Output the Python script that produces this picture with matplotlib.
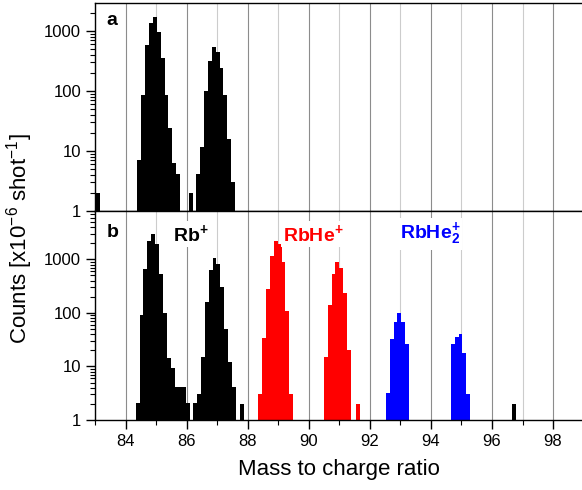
"""Mass spectrum of Rb+ and its helium complexes, two stacked log panels."""

import numpy as np
import matplotlib

matplotlib.use("Agg")
import matplotlib.pyplot as plt
from matplotlib.ticker import FuncFormatter, LogLocator, MultipleLocator


plt.rcParams["font.family"] = ["Liberation Sans", "DejaVu Sans"]
plt.rcParams["mathtext.fontset"] = "custom"
plt.rcParams["mathtext.rm"] = "Liberation Sans"
plt.rcParams["mathtext.bf"] = "Liberation Sans:bold"
plt.rcParams["mathtext.it"] = "Liberation Sans:italic"

BIN_WIDTH = 0.128

# panel a: bare Rb+ (counts in 1e-6 per shot)
A_RB85_START = 84.38
A_RB85_COUNTS = [7.1, 85, 584, 1343, 1694, 973, 350, 85, 23.7, 6.2, 4.1]
A_RB87_START = 86.31
A_RB87_COUNTS = [4.1, 11.7, 100, 319, 547, 451, 238, 85, 15.6, 3.05]
A_SINGLE_MASS = [83.03, 86.08]
A_SINGLE_COUNTS = [2, 2]

# panel b: Rb+, RbHe+ and RbHe2+
B_RB85_START = 84.33
B_RB85_COUNTS = [2.1, 90, 647, 2180, 3030, 1960, 540, 101, 14.5, 9.4, 4.2, 4.2, 4.2, 2.1]
B_RB87_START = 86.21
B_RB87_COUNTS = [2.1, 3.1, 15, 160, 620, 1070, 830, 303, 51, 11.9, 4.1]
B_RB_SINGLE_MASS = [87.74, 96.67]
B_RB_SINGLE_COUNTS = [2, 2]

B_RBHE89_START = 88.34
B_RBHE89_COUNTS = [3.1, 34, 283, 1180, 2240, 1960, 890, 107, 3.1]
B_RBHE91_START = 90.49
B_RBHE91_COUNTS = [14.7, 138, 525, 890, 695, 240, 20]
B_RBHE_SINGLE_MASS = [91.54]
B_RBHE_SINGLE_COUNTS = [2]

B_RBHE2_93_START = 92.52
B_RBHE2_93_COUNTS = [3.2, 33, 68, 101, 68, 26]
B_RBHE2_95_START = 94.65
B_RBHE2_95_COUNTS = [26, 35, 41, 18, 3.1]


def dibujar_pico(ax, inicio, conteos, color):
    # un solo poligono escalonado por pico, asi no quedan rayas entre bins
    bordes = inicio + BIN_WIDTH * np.arange(len(conteos) + 1)
    ax.stairs(conteos, bordes, baseline=1, fill=True, color=color,
              linewidth=0, zorder=2)


def dibujar_sueltos(ax, masas, conteos, color):
    for masa, conteo in zip(masas, conteos):
        dibujar_pico(ax, masa, [conteo], color)


def estilo_ejes(ax, ymax):
    ax.set_xlim(83, 99)
    ax.set_yscale("log", nonpositive="clip")
    ax.set_ylim(1, ymax)
    ax.xaxis.set_major_locator(MultipleLocator(2))
    ax.xaxis.set_minor_locator(MultipleLocator(1))
    ax.yaxis.set_major_locator(LogLocator(base=10, numticks=10))
    ax.yaxis.set_minor_locator(LogLocator(base=10, subs=np.arange(2, 10), numticks=20))
    ax.yaxis.set_major_formatter(FuncFormatter(lambda v, _: f"{v:g}"))
    ax.set_axisbelow(True)
    ax.grid(True, axis="x", which="major", color="#8c8c8c", linewidth=0.8)
    ax.grid(True, axis="x", which="minor", color="#cccccc", linewidth=0.8)
    ax.tick_params(which="major", direction="out", length=6.5, width=1.0,
                   labelsize=12, pad=3.5)
    ax.tick_params(which="minor", direction="out", length=3.5, width=0.8)
    for lado in ax.spines.values():
        lado.set_linewidth(1.0)


def main():
    fig = plt.figure(figsize=(5.82, 4.90), dpi=100)
    izquierda = 95 / 582
    ancho = (583.6 - 95) / 582
    ax_a = fig.add_axes([izquierda, 1 - 211 / 490, ancho, (211 - 2.7) / 490])
    ax_b = fig.add_axes([izquierda, 1 - 420 / 490, ancho, (420 - 211) / 490])

    estilo_ejes(ax_a, 2950)
    estilo_ejes(ax_b, 8000)
    ax_a.tick_params(labelbottom=False)

    dibujar_pico(ax_a, A_RB85_START, A_RB85_COUNTS, "black")
    dibujar_pico(ax_a, A_RB87_START, A_RB87_COUNTS, "black")
    dibujar_sueltos(ax_a, A_SINGLE_MASS, A_SINGLE_COUNTS, "black")

    dibujar_pico(ax_b, B_RB85_START, B_RB85_COUNTS, "black")
    dibujar_pico(ax_b, B_RB87_START, B_RB87_COUNTS, "black")
    dibujar_sueltos(ax_b, B_RB_SINGLE_MASS, B_RB_SINGLE_COUNTS, "black")
    dibujar_pico(ax_b, B_RBHE89_START, B_RBHE89_COUNTS, "#ff0000")
    dibujar_pico(ax_b, B_RBHE91_START, B_RBHE91_COUNTS, "#ff0000")
    dibujar_sueltos(ax_b, B_RBHE_SINGLE_MASS, B_RBHE_SINGLE_COUNTS, "#ff0000")
    dibujar_pico(ax_b, B_RBHE2_93_START, B_RBHE2_93_COUNTS, "#0000ff")
    dibujar_pico(ax_b, B_RBHE2_95_START, B_RBHE2_95_COUNTS, "#0000ff")

    ax_a.text(0.024, 0.915, "a", transform=ax_a.transAxes, fontsize=14,
              fontweight="bold", ha="left", va="center")
    ax_b.text(0.024, 0.895, "b", transform=ax_b.transAxes, fontsize=14,
              fontweight="bold", ha="left", va="center")

    caja = dict(facecolor="white", edgecolor="none", pad=1.5)
    trans = ax_b.get_xaxis_transform()
    etiquetas = [
        (85.55, r"Rb$^{\mathbf{+}}$", "black"),
        (89.17, r"RbHe$^{\mathbf{+}}$", "#ff0000"),
        (92.98, r"RbHe$_{\mathbf{2}}^{\mathbf{+}}$", "#0000ff"),
    ]
    for x, texto, color in etiquetas:
        ax_b.text(x, 0.89, texto, transform=trans, color=color, fontsize=14,
                  fontweight="bold", ha="left", va="center", bbox=caja, zorder=3)

    fig.text(0.034, 0.514, r"Counts [x10$^{-6}$ shot$^{-1}$]", rotation=90,
             ha="center", va="center", fontsize=16)
    fig.text(0.583, 0.041, "Mass to charge ratio", ha="center", va="center",
             fontsize=16)

    fig.savefig("out.png", dpi=100)
    plt.close(fig)


if __name__ == "__main__":
    main()
